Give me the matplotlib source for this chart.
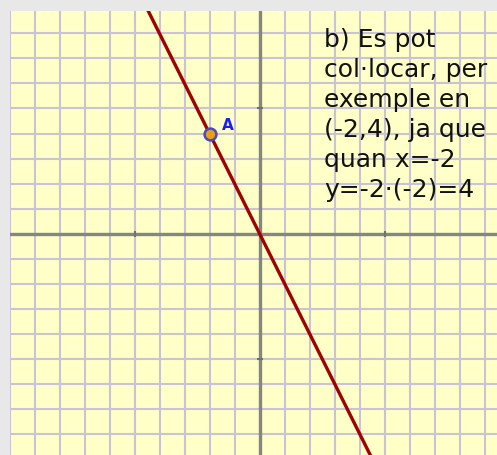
import matplotlib.pyplot as plt
import numpy as np

# recta y = -2x i punt A
pendent = -2
punt_A = (-2, 4)
etiqueta_A = 'A'
text_b = "b) Es pot\ncol·locar, per\nexemple en\n(-2,4), ja que\nquan x=-2\ny=-2·(-2)=4"

xmin, xmax = -9.98, 9.5
ymin, ymax = -8.86, 8.9

fig = plt.figure(figsize=(4.97, 4.55), dpi=100)
fig.patch.set_facecolor('#e8e8e8')
ax = fig.add_axes([10 / 497, 0, 487 / 497, 444 / 455])
ax.set_facecolor('#ffffc8')
ax.set_xlim(xmin, xmax)
ax.set_ylim(ymin, ymax)

# quadricula
for k in range(-10, 11):
    ax.axvline(k, color='#cac3d3', lw=1.5, zorder=1)
    ax.axhline(k, color='#cac3d3', lw=1.5, zorder=1)

# eixos
ax.axhline(0, color='#858585', lw=2.4, zorder=2)
ax.axvline(0, color='#858585', lw=2.4, zorder=2)
ax.plot([-5, 5], [0, 0], ls='none', marker='|', ms=4, mew=1.5, color='#707070', zorder=2)
ax.plot([0, 0], [-5, 5], ls='none', marker='_', ms=4, mew=1.5, color='#707070', zorder=2)

xs = np.array([xmin, xmax])
ax.plot(xs, pendent * xs, color='#a00000', lw=2.4, zorder=3)

ax.plot(*punt_A, marker='o', ms=8.5, mfc='#e8a010', mec='#4848c8', mew=1.8, zorder=4)
ax.text(punt_A[0] + 0.5, punt_A[1] + 0.14, etiqueta_A, color='#1a1aff',
        fontsize=11, fontweight='bold', va='baseline', zorder=5)

ax.text(2.58, 8.22, text_b, fontsize=18, va='top', ha='left',
        color='#111111', linespacing=1.32, zorder=5)

for s in ax.spines.values():
    s.set_visible(False)
ax.set_xticks([])
ax.set_yticks([])

fig.savefig('out.png', dpi=100, facecolor=fig.get_facecolor())
